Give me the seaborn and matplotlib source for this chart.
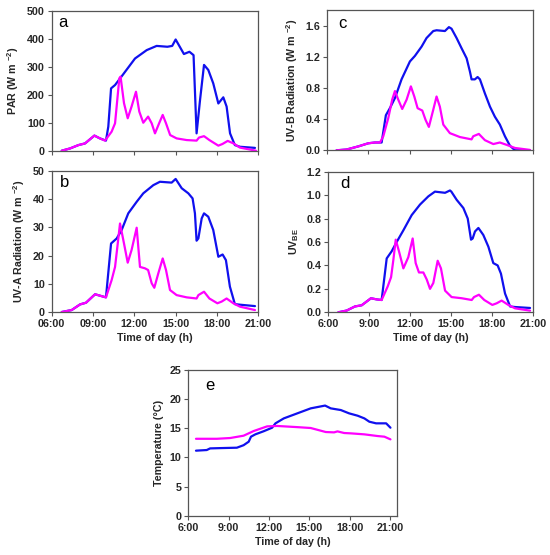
import matplotlib
matplotlib.use("Agg")
import matplotlib.pyplot as plt
import seaborn as sns

# ---------------- data ----------------
# Panel a: PAR (W m-2)
a_blue_t = [6.73, 7.33, 7.94, 8.42, 9.1, 9.5, 9.94, 10.11, 10.31, 10.6, 11.2, 12.05, 12.9, 13.62, 14.4, 14.75, 15.0,
            15.3, 15.6, 16.0, 16.3, 16.52, 16.77, 17.06, 17.37, 17.73, 18.1, 18.46, 18.7, 18.95, 19.3, 19.67, 20.76]
a_blue_v = [0, 8, 20, 26, 54, 44, 36, 86, 223, 235, 274, 330, 360, 375, 372, 375, 398,
            372, 346, 354, 342, 62, 181, 307, 289, 241, 169, 191, 158, 62, 20, 14, 10]
a_mag_t = [6.73, 7.33, 7.94, 8.42, 9.1, 9.5, 9.87, 10.35, 10.6, 10.91, 11.0, 11.25, 11.52, 11.8, 12.12, 12.36, 12.65,
           13.0, 13.26, 13.5, 13.8, 14.06, 14.3, 14.6, 15.07, 15.8, 16.52, 16.7, 17.06, 17.45, 18.1, 18.4, 18.78,
           19.2, 19.67, 20.3, 20.83]
a_mag_v = [0, 8, 20, 26, 54, 44, 36, 68, 98, 259, 265, 170, 116, 158, 211, 140, 100,
           122, 98, 62, 98, 128, 98, 56, 44, 38, 36, 47, 52, 38, 18, 24, 35,
           26, 11, 5, 0]

# Panel b: UV-A radiation (W m-2)
b_blue_t = [6.73, 7.45, 8.06, 8.49, 9.15, 9.5, 9.94, 10.31, 10.72, 11.08, 11.56, 12.17, 12.65, 13.38, 13.86, 14.71,
            15.0, 15.44, 15.92, 16.23, 16.4, 16.52, 16.65, 16.89, 17.06, 17.37, 17.73, 18.1, 18.41, 18.65, 18.94,
            19.3, 19.67, 20.76]
b_blue_v = [0, 0.7, 2.7, 3.3, 6.3, 5.8, 5.2, 24.3, 26.1, 29.1, 35, 39.1, 42.1, 45, 46.2, 45.9,
            47.2, 43.9, 42.1, 40.3, 35, 25.3, 26.1, 33.2, 35, 33.8, 29.1, 19.6, 20.4, 18.4, 9,
            2.8, 2.6, 2.1]
b_mag_t = [6.73, 7.45, 8.06, 8.49, 9.15, 9.5, 9.94, 10.35, 10.6, 10.77, 10.96, 11.25, 11.52, 11.8, 12.17, 12.41,
           12.77, 13.0, 13.26, 13.45, 13.74, 14.06, 14.3, 14.59, 15.07, 15.8, 16.52, 16.65, 17.06, 17.45, 18.03,
           18.34, 18.7, 19.19, 19.67, 20.76]
b_mag_v = [0, 0.7, 2.7, 3.3, 6.3, 5.8, 5.2, 11.3, 16, 23.2, 31.4, 24.3, 17.5, 22, 29.9, 16,
           15.5, 14.9, 10.2, 8.6, 13.7, 19, 14.9, 7.8, 6, 5.2, 4.8, 6, 7.2, 4.8, 3.1,
           3.7, 4.8, 3.1, 1.9, 0.7]

# Panel c: UV-B radiation (W m-2)
c_blue_t = [6.68, 7.41, 8.26, 8.99, 9.47, 9.96, 10.27, 10.56, 10.93, 11.41, 12.02, 12.38, 12.87, 13.23, 13.72, 13.96,
            14.57, 14.86, 15.05, 15.42, 15.78, 16.15, 16.39, 16.51, 16.75, 16.95, 17.12, 17.48, 17.85, 18.21, 18.57,
            18.94, 19.3, 19.67, 20.76]
c_blue_v = [0.0, 0.01, 0.05, 0.09, 0.10, 0.10, 0.45, 0.54, 0.67, 0.91, 1.14, 1.21, 1.33, 1.44, 1.53, 1.54,
            1.53, 1.58, 1.56, 1.44, 1.31, 1.18, 1.01, 0.91, 0.91, 0.94, 0.91, 0.73, 0.56, 0.43, 0.33,
            0.18, 0.06, 0.0, 0.0]
c_mag_t = [6.68, 7.41, 8.26, 8.99, 9.47, 9.84, 10.08, 10.44, 10.73, 10.93, 11.17, 11.46, 11.78, 12.09, 12.34, 12.58,
           12.92, 13.16, 13.4, 13.72, 13.96, 14.2, 14.45, 14.93, 15.66, 16.51, 16.63, 17.04, 17.48, 18.09, 18.57,
           19.06, 19.67, 20.76]
c_mag_v = [0.0, 0.01, 0.05, 0.09, 0.10, 0.10, 0.18, 0.41, 0.65, 0.76, 0.65, 0.53, 0.65, 0.82, 0.69, 0.54,
           0.51, 0.39, 0.30, 0.52, 0.69, 0.56, 0.33, 0.22, 0.17, 0.14, 0.18, 0.21, 0.13, 0.08, 0.10,
           0.07, 0.03, 0.005]

# Panel d: UV_BE
d_blue_t = [6.73, 7.34, 7.95, 8.44, 9.12, 9.54, 9.9, 10.27, 10.63, 11.0, 11.49, 12.1, 12.71, 13.32, 13.8, 14.54,
            14.9, 15.0, 15.39, 15.88, 16.2, 16.44, 16.56, 16.73, 16.98, 17.34, 17.71, 18.07, 18.39, 18.63, 18.93,
            19.3, 19.66, 20.76]
d_blue_v = [0, 0.015, 0.05, 0.06, 0.12, 0.11, 0.105, 0.46, 0.52, 0.60, 0.70, 0.83, 0.92, 0.99, 1.03, 1.02,
            1.04, 1.03, 0.96, 0.89, 0.80, 0.62, 0.63, 0.69, 0.72, 0.66, 0.56, 0.42, 0.40, 0.33, 0.16,
            0.05, 0.045, 0.037]
d_mag_t = [6.73, 7.34, 7.95, 8.44, 9.12, 9.54, 9.9, 10.34, 10.59, 10.76, 10.93, 11.17, 11.49, 11.85, 12.17, 12.39,
           12.63, 12.95, 13.2, 13.44, 13.68, 14.0, 14.24, 14.54, 15.02, 15.76, 16.49, 16.66, 17.02, 17.41, 18.0,
           18.32, 18.68, 19.17, 19.66, 20.76]
d_mag_v = [0, 0.015, 0.05, 0.06, 0.12, 0.11, 0.105, 0.22, 0.30, 0.45, 0.62, 0.52, 0.375, 0.47, 0.63, 0.42,
           0.34, 0.34, 0.28, 0.20, 0.25, 0.44, 0.375, 0.185, 0.13, 0.12, 0.105, 0.13, 0.15, 0.105, 0.063,
           0.077, 0.10, 0.063, 0.034, 0.014]

# Panel e: Temperature (C)
e_blue_t = [6.57, 7.37, 7.62, 8.37, 9.61, 10.11, 10.49, 10.66, 10.98, 11.61, 12.23, 12.48, 13.1, 14.1, 15.1, 16.17,
            16.59, 17.34, 17.96, 18.59, 19.09, 19.46, 19.96, 20.71, 21.03]
e_blue_v = [11.16, 11.27, 11.55, 11.6, 11.67, 12.1, 12.7, 13.56, 13.96, 14.5, 15.1, 15.85, 16.7, 17.56, 18.42, 18.9,
            18.42, 18.13, 17.56, 17.16, 16.7, 16.13, 15.85, 15.85, 15.1]
e_mag_t = [6.57, 8.12, 9.11, 10.11, 10.86, 11.86, 12.6, 14.1, 15.1, 16.22, 16.84, 17.09, 17.59, 18.09, 19.09, 20.08,
           20.58, 21.03]
e_mag_v = [13.2, 13.2, 13.33, 13.73, 14.53, 15.33, 15.4, 15.2, 15.05, 14.36, 14.3, 14.47, 14.19, 14.13, 13.96, 13.67,
           13.56, 13.1]

x_ticks = [6, 9, 12, 15, 18, 21]
x_labels_b = ["06:00", "09:00", "12:00", "15:00", "18:00", "21:00"]
x_labels_de = ["6:00", "9:00", "12:00", "15:00", "18:00", "21:00"]

# ---------------- style ----------------
sns.set_theme(style="ticks")
plt.rcParams["font.family"] = ["Liberation Sans", "DejaVu Sans"]
plt.rcParams["mathtext.fontset"] = "custom"
plt.rcParams["mathtext.rm"] = "Liberation Sans:bold"
plt.rcParams["mathtext.it"] = "Liberation Sans:bold"
plt.rcParams["mathtext.bf"] = "Liberation Sans:bold"
plt.rcParams["mathtext.default"] = "rm"

BLUE = "#1010ee"
MAG = "#ff00ff"
LW = 1.6
TICK_FS = 7.7
LAB_FS = 7.7
LET_FS = 12

fig = plt.figure(figsize=(5.5, 5.55), dpi=100)

panels = [
    dict(pos=[0.094, 0.7285, 0.3756, 0.2517], bt=a_blue_t, bv=a_blue_v, mt=a_mag_t, mv=a_mag_v,
         ylim=(0, 500), yticks=[0, 100, 200, 300, 400, 500], yfmt="{:.0f}", ylabel="PAR (W m $^{-2}$)",
         xlim=(6, 21), xlabels=None, letter="a", lpos=(0.03, 0.885)),
    dict(pos=[0.094, 0.4378, 0.3756, 0.254], bt=b_blue_t, bv=b_blue_v, mt=b_mag_t, mv=b_mag_v,
         ylim=(0, 50), yticks=[0, 10, 20, 30, 40, 50], yfmt="{:.0f}", ylabel="UV-A Radiation (W m $^{-2}$)",
         xlim=(6, 21), xlabels=x_labels_b, letter="b", lpos=(0.04, 0.884)),
    dict(pos=[0.595, 0.7292, 0.3745, 0.2528], bt=c_blue_t, bv=c_blue_v, mt=c_mag_t, mv=c_mag_v,
         ylim=(0, 1.8), yticks=[0, 0.4, 0.8, 1.2, 1.6], yfmt="{:.1f}", ylabel="UV-B Radiation (W m $^{-2}$)",
         xlim=(6, 21), xlabels=None, letter="c", lpos=(0.052, 0.872)),
    dict(pos=[0.597, 0.4373, 0.3727, 0.2533], bt=d_blue_t, bv=d_blue_v, mt=d_mag_t, mv=d_mag_v,
         ylim=(0, 1.2), yticks=[0, 0.2, 0.4, 0.6, 0.8, 1.0, 1.2], yfmt="{:.1f}", ylabel="UV$_{BE}$",
         xlim=(6, 21), xlabels=x_labels_de, letter="d", lpos=(0.06, 0.882)),
    dict(pos=[0.3424, 0.0708, 0.379, 0.2625], bt=e_blue_t, bv=e_blue_v, mt=e_mag_t, mv=e_mag_v,
         ylim=(0, 25), yticks=[0, 5, 10, 15, 20, 25], yfmt="{:.0f}", ylabel="Temperature (°C)",
         xlim=(6, 21.5), xlabels=x_labels_de, letter="e", lpos=(0.08, 0.863)),
]

for p in panels:
    ax = fig.add_axes(p["pos"])
    sns.lineplot(x=p["bt"], y=p["bv"], sort=False, estimator=None, color=BLUE, lw=LW, ax=ax)
    sns.lineplot(x=p["mt"], y=p["mv"], sort=False, estimator=None, color=MAG, lw=LW, ax=ax)
    ax.set_xlim(*p["xlim"])
    ax.set_ylim(*p["ylim"])
    ax.set_xticks(x_ticks)
    if p["xlabels"] is None:
        ax.set_xticklabels([])
        ax.set_xlabel("")
    else:
        ax.set_xticklabels(p["xlabels"], fontsize=TICK_FS, fontweight="bold")
        ax.set_xlabel("Time of day (h)", fontsize=LAB_FS, fontweight="bold", labelpad=3)
    ax.set_yticks(p["yticks"])
    ax.set_yticklabels([p["yfmt"].format(v) for v in p["yticks"]], fontsize=TICK_FS, fontweight="bold")
    ax.set_ylabel(p["ylabel"], fontsize=LAB_FS, fontweight="bold", labelpad=4)
    for s in ax.spines.values():
        s.set_visible(True)
        s.set_color("#555555")
        s.set_linewidth(0.9)
    ax.tick_params(direction="out", length=3, width=0.8, color="#555555", pad=2)
    ax.text(p["lpos"][0], p["lpos"][1], p["letter"], transform=ax.transAxes, fontsize=LET_FS,
            va="baseline", ha="left", color="black")

fig.savefig("out.png", dpi=100)
